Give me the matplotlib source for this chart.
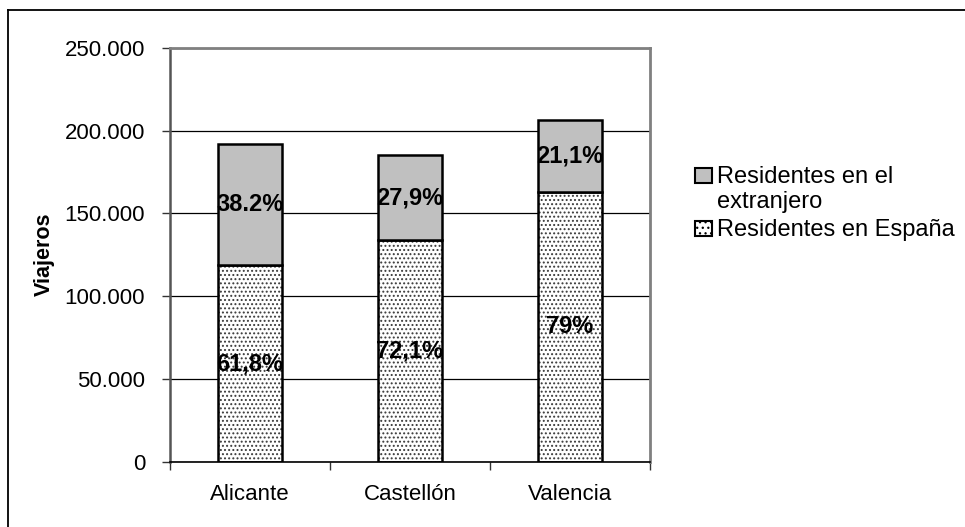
import matplotlib
matplotlib.use('Agg')
import numpy as np
import matplotlib.pyplot as plt
from matplotlib.patches import Rectangle
from matplotlib.lines import Line2D

categories = ['Alicante', 'Castellón', 'Valencia']
residentes_espana = [118500, 133600, 162800]
residentes_extranjero = [73300, 51700, 43500]
pct_espana = ['61,8%', '72,1%', '79%']
pct_extranjero = ['38.2%', '27,9%', '21,1%']
yticks = [0, 50000, 100000, 150000, 200000, 250000]
ytick_labels = ['0', '50.000', '100.000', '150.000', '200.000', '250.000']
series_labels = ['Residentes en el\nextranjero', 'Residentes en España']
y_title = 'Viajeros'

plt.rcParams['font.family'] = ['Liberation Sans', 'DejaVu Sans']
plt.rcParams['hatch.linewidth'] = 0.9

W, H = 965, 527
fig = plt.figure(figsize=(W / 100, H / 100), dpi=100)
ax = fig.add_axes([170 / W, 65.3 / H, 480 / W, 414 / H])

x = np.arange(len(categories))
bw = 0.406
esp = np.array(residentes_espana)
ext = np.array(residentes_extranjero)

ax.bar(x, esp, bw, color='white', edgecolor='#3a3a3a', hatch='....', linewidth=0, zorder=2)
ax.bar(x, esp, bw, fill=False, edgecolor='black', linewidth=1.8, zorder=3)
ax.bar(x, ext, bw, bottom=esp, color='#C0C0C0', edgecolor='black', linewidth=1.8, zorder=3)

for i in range(len(categories)):
    ax.text(x[i], esp[i] / 2, pct_espana[i], ha='center', va='center',
            fontsize=17, fontweight='bold', zorder=4)
    ax.text(x[i], esp[i] + ext[i] / 2, pct_extranjero[i], ha='center', va='center',
            fontsize=17, fontweight='bold', zorder=4)

ax.set_xlim(-0.5, len(categories) - 0.5)
ax.set_ylim(0, 250000)
ax.set_yticks(yticks, ytick_labels)
ax.set_xticks(x, categories)
ax.set_xticks(np.arange(len(categories) + 1) - 0.5, minor=True)
ax.tick_params(axis='x', which='major', length=0, pad=16, labelsize=16)
ax.tick_params(axis='x', which='minor', length=6, width=1, color='#333333', direction='out')
ax.tick_params(axis='y', length=6, width=1, color='#333333', pad=12, labelsize=16)

ax.set_axisbelow(True)
ax.yaxis.grid(True, color='black', linewidth=0.9)

for s in ['top', 'right']:
    ax.spines[s].set_color('#808080')
    ax.spines[s].set_linewidth(2)
ax.spines['left'].set_color('#555555')
ax.spines['left'].set_linewidth(1.8)
ax.spines['bottom'].set_color('black')
ax.spines['bottom'].set_linewidth(1.2)

ax.set_ylabel(y_title, fontsize=15.5, fontweight='bold')
ax.yaxis.set_label_coords(-0.24, 0.5)

# outer chart border (top and left visible)
fig.add_artist(Line2D([8 / W, 1], [1 - 10 / H] * 2, transform=fig.transFigure, color='black', lw=1.3))
fig.add_artist(Line2D([8 / W] * 2, [0, 1 - 10 / H], transform=fig.transFigure, color='black', lw=1.3))

# legend
def px(xp, yp):
    return xp / W, 1 - yp / H

bx, by = px(695, 183)
fig.add_artist(Rectangle((bx, by), 17 / W, 15 / H, transform=fig.transFigure,
                         facecolor='#C0C0C0', edgecolor='black', lw=1.5))
bx, by = px(695, 236)
fig.add_artist(Rectangle((bx, by), 17 / W, 15 / H, transform=fig.transFigure,
                         facecolor='white', edgecolor='black', hatch='...', lw=1.5))
lines1 = series_labels[0].split('\n')
tx, ty = px(717, 183)
fig.text(tx, ty, lines1[0], fontsize=17, va='baseline', ha='left')
tx, ty = px(717, 208)
fig.text(tx, ty, lines1[1], fontsize=17, va='baseline', ha='left')
tx, ty = px(717, 236)
fig.text(tx, ty, series_labels[1], fontsize=17, va='baseline', ha='left')

fig.savefig('out.png', dpi=100)
